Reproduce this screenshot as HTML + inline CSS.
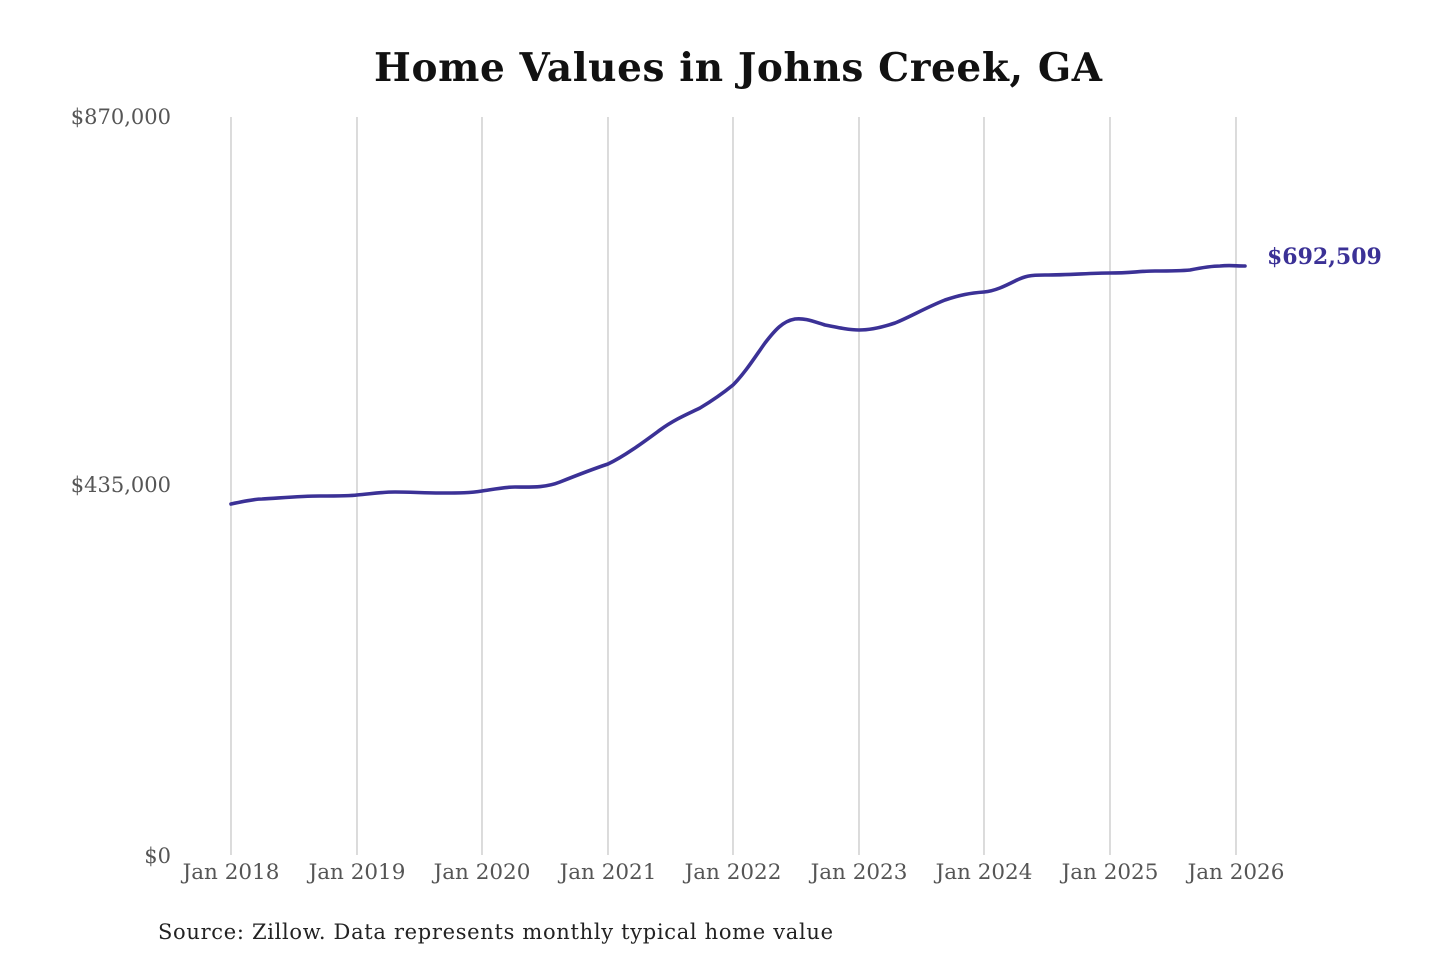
<!DOCTYPE html>
<html><head><meta charset="utf-8"><style>
html,body{margin:0;padding:0;background:#fff;}
svg{display:block;}
text{font-family:"DejaVu Serif","Liberation Serif",serif;}
</style></head><body>
<svg width="1440" height="960" viewBox="0 0 1440 960" xmlns="http://www.w3.org/2000/svg">
<rect width="1440" height="960" fill="#fff"/>
<text x="374" y="81" font-size="39" font-weight="bold" fill="#111" textLength="728" lengthAdjust="spacing">Home Values in Johns Creek, GA</text>
<g stroke="#c8c8c8" stroke-width="1.3">
<line x1="231" y1="117" x2="231" y2="855"/>
<line x1="357" y1="117" x2="357" y2="855"/>
<line x1="482" y1="117" x2="482" y2="855"/>
<line x1="608" y1="117" x2="608" y2="855"/>
<line x1="733" y1="117" x2="733" y2="855"/>
<line x1="859" y1="117" x2="859" y2="855"/>
<line x1="984" y1="117" x2="984" y2="855"/>
<line x1="1110" y1="117" x2="1110" y2="855"/>
<line x1="1236" y1="117" x2="1236" y2="855"/>
</g>
<g font-size="21" fill="#555" text-anchor="end">
<text x="171" y="124">$870,000</text>
<text x="171" y="492">$435,000</text>
<text x="171" y="863">$0</text>
</g>
<g font-size="21.5" fill="#555" text-anchor="middle">
<text x="231" y="879">Jan 2018</text>
<text x="357" y="879">Jan 2019</text>
<text x="482" y="879">Jan 2020</text>
<text x="608" y="879">Jan 2021</text>
<text x="733" y="879">Jan 2022</text>
<text x="859" y="879">Jan 2023</text>
<text x="984" y="879">Jan 2024</text>
<text x="1110" y="879">Jan 2025</text>
<text x="1236" y="879">Jan 2026</text>
</g>
<path fill="none" stroke="#3b3196" stroke-width="3.6" stroke-linejoin="round" stroke-linecap="round"
d="M231,504 C245,501 255,499 262,499 C280,498 300,496 320,496 C340,496 350,496 357,495 C370,494 380,492 395,492 C410,492 425,493 440,493 C460,493 470,493 482,491 C495,489 505,487 515,487 C530,487 545,488 560,482 C575,476 590,470 608,464 C625,456 645,441 660,430 C675,419 690,413 700,408 C710,402 722,394 733,385 C745,373 755,357 765,343 C775,330 783,321 795,319 C805,318 812,321 825,325 C840,328 850,330 859,330 C870,330 880,328 895,323 C910,317 925,308 945,300 C960,295 970,293 984,292 C995,291 1005,286 1015,281 C1025,276 1030,275 1045,275 C1070,275 1090,273 1110,273 C1130,273 1140,271 1155,271 C1170,271 1180,271 1190,270 C1200,268 1210,266 1220,266 C1230,265 1236,266 1245,266"/>
<text x="1267" y="264" font-size="22" font-weight="bold" fill="#3b3196">$692,509</text>
<text x="158" y="939" font-size="21" fill="#222" textLength="675" lengthAdjust="spacing">Source: Zillow. Data represents monthly typical home value</text>
</svg>
</body></html>
